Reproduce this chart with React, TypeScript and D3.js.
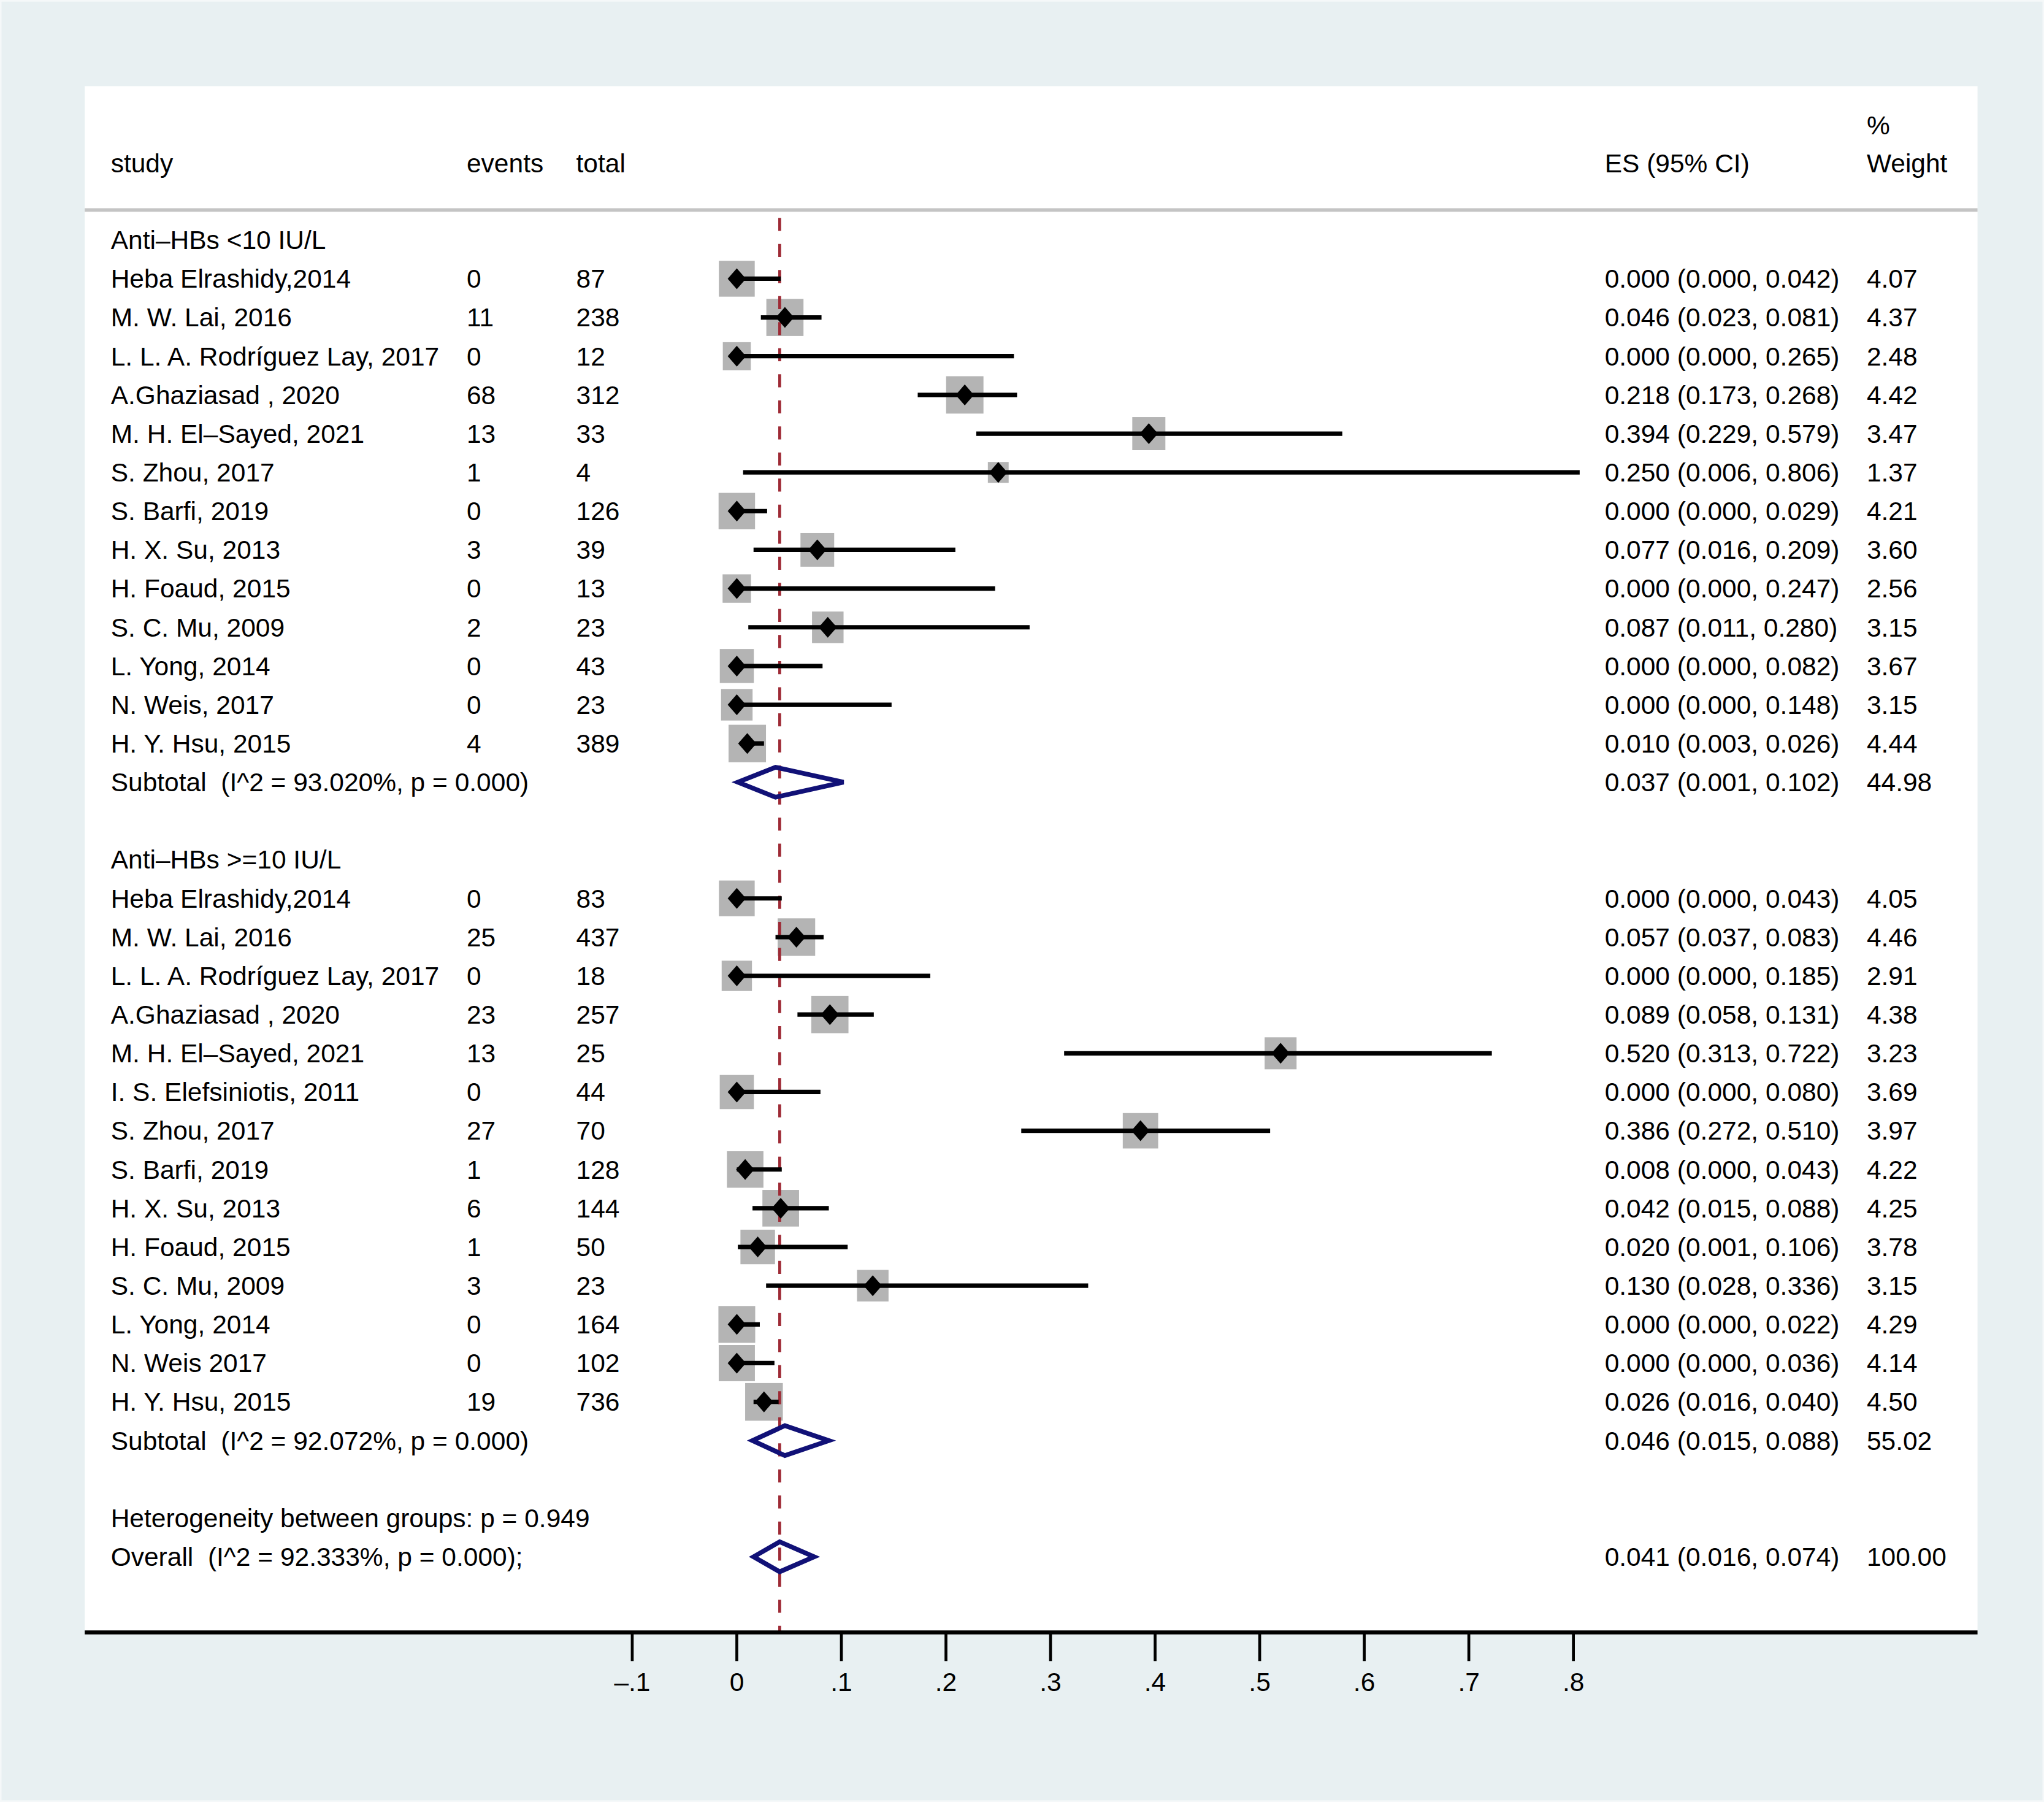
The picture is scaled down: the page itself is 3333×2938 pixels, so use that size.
import React from 'react';
import * as d3 from 'd3';

// group 1: Anti-HBs <10 IU/L
const g1Studies = [
  'Heba Elrashidy,2014', 'M. W. Lai, 2016', 'L. L. A. Rodríguez Lay, 2017', 'A.Ghaziasad , 2020',
  'M. H. El–Sayed, 2021', 'S. Zhou, 2017', 'S. Barfi, 2019', 'H. X. Su, 2013', 'H. Foaud, 2015',
  'S. C. Mu, 2009', 'L. Yong, 2014', 'N. Weis, 2017', 'H. Y. Hsu, 2015',
];
const g1Events = [0, 11, 0, 68, 13, 1, 0, 3, 0, 2, 0, 0, 4];
const g1Totals = [87, 238, 12, 312, 33, 4, 126, 39, 13, 23, 43, 23, 389];
const g1ES = [0.0, 0.046, 0.0, 0.218, 0.394, 0.25, 0.0, 0.077, 0.0, 0.087, 0.0, 0.0, 0.01];
const g1Lo = [0.0, 0.023, 0.0, 0.173, 0.229, 0.006, 0.0, 0.016, 0.0, 0.011, 0.0, 0.0, 0.003];
const g1Hi = [0.042, 0.081, 0.265, 0.268, 0.579, 0.806, 0.029, 0.209, 0.247, 0.28, 0.082, 0.148, 0.026];
const g1Weights = [4.07, 4.37, 2.48, 4.42, 3.47, 1.37, 4.21, 3.6, 2.56, 3.15, 3.67, 3.15, 4.44];

// group 2: Anti-HBs >=10 IU/L
const g2Studies = [
  'Heba Elrashidy,2014', 'M. W. Lai, 2016', 'L. L. A. Rodríguez Lay, 2017', 'A.Ghaziasad , 2020',
  'M. H. El–Sayed, 2021', 'I. S. Elefsiniotis, 2011', 'S. Zhou, 2017', 'S. Barfi, 2019',
  'H. X. Su, 2013', 'H. Foaud, 2015', 'S. C. Mu, 2009', 'L. Yong, 2014', 'N. Weis 2017', 'H. Y. Hsu, 2015',
];
const g2Events = [0, 25, 0, 23, 13, 0, 27, 1, 6, 1, 3, 0, 0, 19];
const g2Totals = [83, 437, 18, 257, 25, 44, 70, 128, 144, 50, 23, 164, 102, 736];
const g2ES = [0.0, 0.057, 0.0, 0.089, 0.52, 0.0, 0.386, 0.008, 0.042, 0.02, 0.13, 0.0, 0.0, 0.026];
const g2Lo = [0.0, 0.037, 0.0, 0.058, 0.313, 0.0, 0.272, 0.0, 0.015, 0.001, 0.028, 0.0, 0.0, 0.016];
const g2Hi = [0.043, 0.083, 0.185, 0.131, 0.722, 0.08, 0.51, 0.043, 0.088, 0.106, 0.336, 0.022, 0.036, 0.04];
const g2Weights = [4.05, 4.46, 2.91, 4.38, 3.23, 3.69, 3.97, 4.22, 4.25, 3.78, 3.15, 4.29, 4.14, 4.5];

const groupTitles = ['Anti–HBs <10 IU/L', 'Anti–HBs >=10 IU/L'];
const subtotalLabels = ['Subtotal  (I^2 = 93.020%, p = 0.000)', 'Subtotal  (I^2 = 92.072%, p = 0.000)'];
const subtotalES = [0.037, 0.046];
const subtotalLo = [0.001, 0.015];
const subtotalHi = [0.102, 0.088];
const subtotalWeights = ['44.98', '55.02'];

const heterogeneityLabel = 'Heterogeneity between groups: p = 0.949';
const overallLabel = 'Overall  (I^2 = 92.333%, p = 0.000);';
const overallES = 0.041;
const overallLo = 0.016;
const overallHi = 0.074;
const overallWeight = '100.00';

const tickValues = [-0.1, 0, 0.1, 0.2, 0.3, 0.4, 0.5, 0.6, 0.7, 0.8];
const tickLabels = ['–.1', '0', '.1', '.2', '.3', '.4', '.5', '.6', '.7', '.8'];

const W = 1568;
const H = 1382;
const FONT = '"Liberation Sans", Arial, Helvetica, sans-serif';

const fmt = (es: number, lo: number, hi: number) =>
  `${es.toFixed(3)} (${lo.toFixed(3)}, ${hi.toFixed(3)})`;

type Row =
  | { kind: 'title'; label: string }
  | { kind: 'study'; label: string; events: number; total: number; es: number; lo: number; hi: number; w: number }
  | { kind: 'sub'; label: string; es: number; lo: number; hi: number; w: string }
  | { kind: 'text'; label: string }
  | { kind: 'blank' };

const rows: Row[] = [];
const groups = [
  { s: g1Studies, e: g1Events, t: g1Totals, es: g1ES, lo: g1Lo, hi: g1Hi, w: g1Weights },
  { s: g2Studies, e: g2Events, t: g2Totals, es: g2ES, lo: g2Lo, hi: g2Hi, w: g2Weights },
];
groups.forEach((g, gi) => {
  rows.push({ kind: 'title', label: groupTitles[gi] });
  g.s.forEach((name, i) =>
    rows.push({ kind: 'study', label: name, events: g.e[i], total: g.t[i], es: g.es[i], lo: g.lo[i], hi: g.hi[i], w: g.w[i] })
  );
  rows.push({ kind: 'sub', label: subtotalLabels[gi], es: subtotalES[gi], lo: subtotalLo[gi], hi: subtotalHi[gi], w: subtotalWeights[gi] });
  rows.push({ kind: 'blank' });
});
rows.push({ kind: 'text', label: heterogeneityLabel });
rows.push({ kind: 'sub', label: overallLabel, es: overallES, lo: overallLo, hi: overallHi, w: overallWeight });

const App: React.FC = () => {
  const x = d3.scaleLinear().domain([-0.1, 0.8]).range([485, 1207]);
  const y = d3.scaleLinear().domain([0, rows.length - 1]).range([184, 1194]);
  const boxSide = d3.scaleSqrt().domain([0, 4.07]).range([0, 27.5]);

  const colStudy = 85;
  const colEvents = 358;
  const colTotal = 442;
  const colES = 1231;
  const colW = 1432;
  const axisY = 1252;
  const textStyle = { fontFamily: FONT, fontSize: 20, fill: '#000' };

  const T = (props: { x: number; y: number; anchor?: string; children: React.ReactNode }) => (
    <text
      x={props.x}
      y={props.y}
      dy="0.35em"
      textAnchor={props.anchor || 'start'}
      xmlSpace="preserve"
      style={{ whiteSpace: 'pre' }}
    >
      {props.children}
    </text>
  );

  const diamond = (es: number, lo: number, hi: number, cy: number, h: number) =>
    `M${x(lo)},${cy} L${x(es)},${cy - h} L${x(hi)},${cy} L${x(es)},${cy + h} Z`;

  return (
    <svg
      width={3333}
      height={2938}
      viewBox={`0 0 ${W} ${H}`}
      style={{ position: 'absolute', left: 0, top: 0, display: 'block' }}
    >
      <rect x={0} y={0} width={W} height={H} fill="#e8f0f2" stroke="#f5f8f9" strokeWidth={2.4} />
      <rect x={65} y={66} width={1452} height={axisY - 66} fill="#ffffff" />

      {/* header */}
      <g style={textStyle}>
        <T x={colStudy} y={125}>study</T>
        <T x={colEvents} y={125}>events</T>
        <T x={colTotal} y={125}>total</T>
        <T x={colES} y={125}>ES (95% CI)</T>
        <T x={colW} y={96}>%</T>
        <T x={colW} y={125}>Weight</T>
      </g>
      <line x1={65} x2={1517} y1={161} y2={161} stroke="#c4c4c4" strokeWidth={2.7} />

      {/* boxes */}
      {rows.map((r, i) =>
        r.kind === 'study' ? (
          <rect
            key={`b${i}`}
            x={x(r.es) - boxSide(r.w) / 2}
            y={y(i) - boxSide(r.w) / 2}
            width={boxSide(r.w)}
            height={boxSide(r.w)}
            fill="#b4b4b4"
          />
        ) : null
      )}

      {/* reference line at overall estimate */}
      <line
        x1={x(overallES)}
        x2={x(overallES)}
        y1={167}
        y2={axisY}
        stroke="#9e2a35"
        strokeWidth={2.2}
        strokeDasharray="10,10"
      />

      {/* CIs and markers */}
      {rows.map((r, i) =>
        r.kind === 'study' ? (
          <g key={`c${i}`}>
            <line x1={x(r.lo)} x2={x(r.hi)} y1={y(i)} y2={y(i)} stroke="#000" strokeWidth={3.4} />
            <path
              d={`M${x(r.es) - 7},${y(i)} L${x(r.es)},${y(i) - 8} L${x(r.es) + 7},${y(i)} L${x(r.es)},${y(i) + 8} Z`}
              fill="#000"
            />
          </g>
        ) : r.kind === 'sub' ? (
          <path
            key={`d${i}`}
            d={diamond(r.es, r.lo, r.hi, y(i), 11.5)}
            fill="none"
            stroke="#111177"
            strokeWidth={3.6}
            strokeLinejoin="miter"
          />
        ) : null
      )}

      {/* text columns */}
      <g style={textStyle}>
        {rows.map((r, i) => {
          if (r.kind === 'blank') return null;
          const yy = y(i);
          return (
            <g key={`t${i}`}>
              <T x={colStudy} y={yy}>{r.label}</T>
              {r.kind === 'study' && (
                <>
                  <T x={colEvents} y={yy}>{r.events}</T>
                  <T x={colTotal} y={yy}>{r.total}</T>
                  <T x={colES} y={yy}>{fmt(r.es, r.lo, r.hi)}</T>
                  <T x={colW} y={yy}>{r.w.toFixed(2)}</T>
                </>
              )}
              {r.kind === 'sub' && (
                <>
                  <T x={colES} y={yy}>{fmt(r.es, r.lo, r.hi)}</T>
                  <T x={colW} y={yy}>{r.w}</T>
                </>
              )}
            </g>
          );
        })}
      </g>

      {/* x axis */}
      <line x1={65} x2={1517} y1={axisY} y2={axisY} stroke="#000" strokeWidth={3} />
      <g style={textStyle}>
        {tickValues.map((v, i) => (
          <g key={`k${i}`}>
            <line x1={x(v)} x2={x(v)} y1={axisY} y2={axisY + 22} stroke="#000" strokeWidth={2.2} />
            <T x={x(v)} y={1290} anchor="middle">{tickLabels[i]}</T>
          </g>
        ))}
      </g>
    </svg>
  );
};

export default App;
